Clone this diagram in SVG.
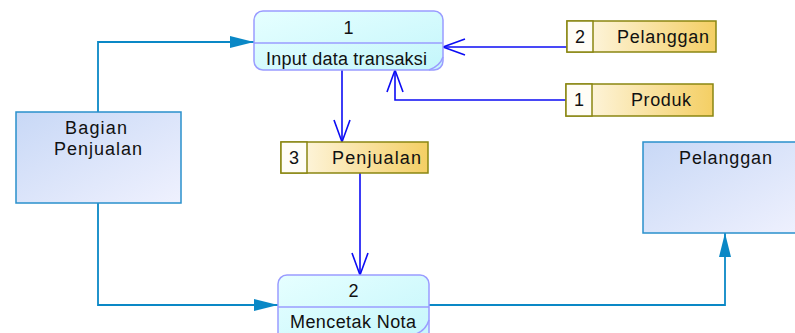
<svg xmlns="http://www.w3.org/2000/svg" width="795" height="333" viewBox="0 0 795 333">
  <defs>
    <linearGradient id="gProc" x1="0" y1="0" x2="1" y2="1">
      <stop offset="0" stop-color="#e6ffff"/>
      <stop offset="1" stop-color="#c4f6fb"/>
    </linearGradient>
    <linearGradient id="gEnt" x1="0" y1="0" x2="1" y2="1">
      <stop offset="0" stop-color="#c8d8f6"/>
      <stop offset="1" stop-color="#eff1fe"/>
    </linearGradient>
    <linearGradient id="gStore" x1="0" y1="0" x2="1" y2="0">
      <stop offset="0" stop-color="#fffbf0"/>
      <stop offset="1" stop-color="#f4cf64"/>
    </linearGradient>
    <marker id="arrFill" markerUnits="userSpaceOnUse" markerWidth="26" markerHeight="14" refX="24" refY="6" orient="auto">
      <path d="M0,0 L24,6 L0,12 Z" fill="#0a88c6"/>
    </marker>
    <marker id="arrOpen" markerUnits="userSpaceOnUse" markerWidth="26" markerHeight="20" refX="23" refY="9" orient="auto">
      <path d="M1,1 L23,9 L1,17" fill="none" stroke="#0c0cf4" stroke-width="1.6"/>
    </marker>
  </defs>
  <style>
    text { font-family: "Liberation Sans", Arial, sans-serif; font-size: 18px; fill: #111; }
    .proc { fill: url(#gProc); stroke: #9a9cff; stroke-width: 1.5; }
    .pline { stroke: #9a9cff; stroke-width: 1.5; fill: none; }
    .ent { fill: url(#gEnt); stroke: #2a90cc; stroke-width: 1.5; }
    .store { fill: url(#gStore); stroke: #8a8612; stroke-width: 1.5; }
    .storeId { fill: #fffdf6; stroke: #8a8612; stroke-width: 1.5; }
    .flowE { stroke: #0a88c6; stroke-width: 1.8; fill: none; marker-end: url(#arrFill); }
    .flowD { stroke: #0c0cf4; stroke-width: 1.6; fill: none; marker-end: url(#arrOpen); }
  </style>

  <!-- connectors -->
  <g id="connectors">
    <path class="flowE" d="M98,112 V42 H254"/>
    <path class="flowE" d="M98,203 V305 H278"/>
    <path class="flowE" d="M429,305 H725 V233"/>
    <path class="flowD" d="M567,47 H443"/>
    <path class="flowD" d="M566,100 H395 V70"/>
    <path class="flowD" d="M342,70 V142"/>
    <path class="flowD" d="M360,173 V275"/>
  </g>

  <!-- process 1 -->
  <g id="proc1">
    <rect class="proc" x="254" y="11" width="189" height="59" rx="9"/>
    <line class="pline" x1="254" y1="43" x2="443" y2="43"/>
    <path class="pline" d="M443,57 Q440,66 429,70"/>
    <text x="348.5" y="34" text-anchor="middle">1</text>
    <text x="266" y="65" textLength="161" lengthAdjust="spacing">Input data transaksi</text>
  </g>

  <!-- process 2 -->
  <g id="proc2">
    <rect class="proc" x="278" y="275" width="151" height="70" rx="9"/>
    <line class="pline" x1="278" y1="307" x2="429" y2="307"/>
    <path class="pline" d="M429,320 Q426,330 416,334"/>
    <text x="353.5" y="297" text-anchor="middle">2</text>
    <text x="290" y="328" textLength="126" lengthAdjust="spacing">Mencetak Nota</text>
  </g>

  <!-- external entity: Bagian Penjualan -->
  <g id="entBagian">
    <rect class="ent" x="16" y="112" width="165" height="91"/>
    <text x="65" y="134" textLength="62" lengthAdjust="spacing">Bagian</text>
    <text x="54" y="155" textLength="88" lengthAdjust="spacing">Penjualan</text>
  </g>

  <!-- external entity: Pelanggan -->
  <g id="entPelanggan">
    <rect class="ent" x="643" y="142" width="160" height="91"/>
    <text x="679" y="164" textLength="93" lengthAdjust="spacing">Pelanggan</text>
  </g>

  <!-- data store 2: Pelanggan -->
  <g id="store2">
    <rect class="store" x="567" y="21" width="149" height="31"/>
    <rect class="storeId" x="567" y="21" width="26" height="31"/>
    <text x="580" y="43" text-anchor="middle">2</text>
    <text x="617" y="43" textLength="92" lengthAdjust="spacing">Pelanggan</text>
  </g>

  <!-- data store 1: Produk -->
  <g id="store1">
    <rect class="store" x="566" y="84" width="147" height="32"/>
    <rect class="storeId" x="566" y="84" width="26" height="32"/>
    <text x="579" y="106" text-anchor="middle">1</text>
    <text x="631" y="106" textLength="60" lengthAdjust="spacing">Produk</text>
  </g>

  <!-- data store 3: Penjualan -->
  <g id="store3">
    <rect class="store" x="281" y="142" width="147" height="31"/>
    <rect class="storeId" x="281" y="142" width="26" height="31"/>
    <text x="294" y="164" text-anchor="middle">3</text>
    <text x="332" y="164" textLength="89" lengthAdjust="spacing">Penjualan</text>
  </g>
</svg>
